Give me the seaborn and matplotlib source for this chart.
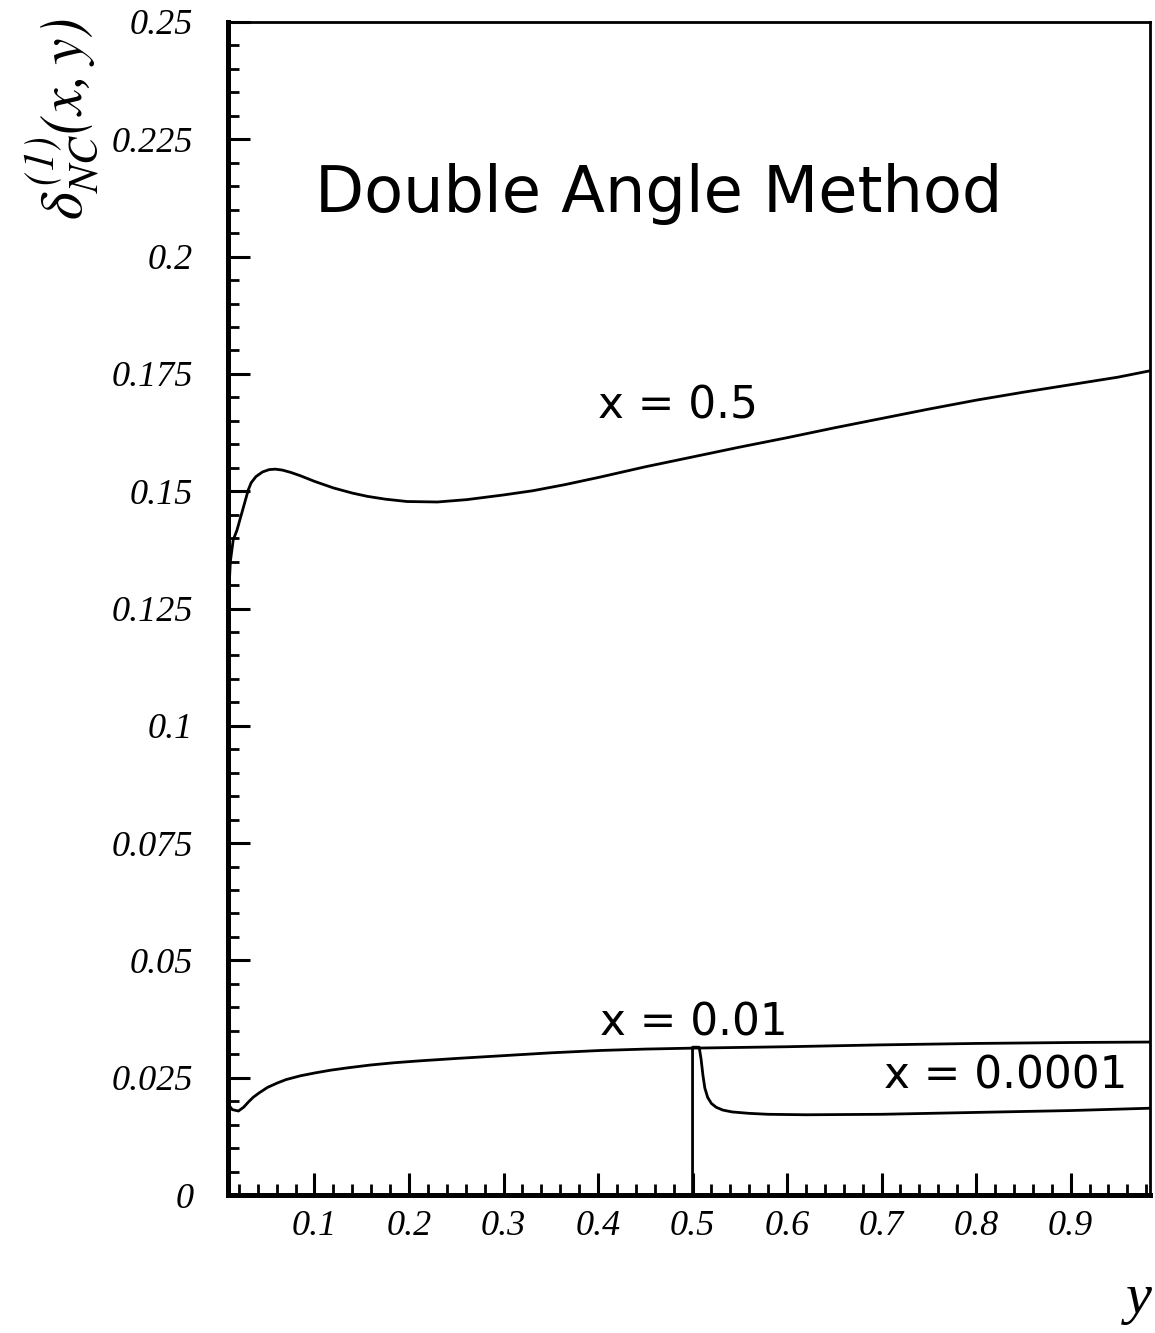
import numpy as np
import pandas as pd
import matplotlib
matplotlib.use("Agg")
import matplotlib.pyplot as plt
from matplotlib.ticker import MultipleLocator, FuncFormatter
import seaborn as sns

# ---- data ----
y_x05 = [0.0093, 0.011, 0.014, 0.018, 0.024, 0.030, 0.033, 0.038, 0.045, 0.052, 0.0586, 0.066,
         0.075, 0.085, 0.1, 0.12, 0.14, 0.156, 0.175, 0.198, 0.23, 0.261, 0.3, 0.331, 0.365,
         0.402, 0.45, 0.5, 0.55, 0.6, 0.65, 0.7, 0.75, 0.8, 0.85, 0.9, 0.95, 0.985]
d_x05 = [0.128, 0.135, 0.1396, 0.1417, 0.146, 0.1503, 0.1518, 0.1531, 0.1541, 0.1546, 0.1547, 0.1545,
         0.1540, 0.1533, 0.1521, 0.1507, 0.1496, 0.1489, 0.1483, 0.1478, 0.1477, 0.1482, 0.1492, 0.1501, 0.1514,
         0.1530, 0.1552, 0.1573, 0.1594, 0.1614, 0.1635, 0.1655, 0.1675, 0.1694, 0.1711, 0.1727, 0.1743, 0.1757]

y_x001 = [0.0098, 0.0100, 0.013, 0.0195, 0.025, 0.03, 0.035, 0.041, 0.05, 0.061, 0.07, 0.085,
          0.1, 0.117, 0.135, 0.159, 0.185, 0.212, 0.25, 0.3, 0.35, 0.402, 0.45, 0.5,
          0.6, 0.7, 0.8, 0.9, 0.985]
d_x001 = [0.0, 0.0190, 0.0182, 0.0179, 0.0187, 0.0198, 0.0208, 0.0217, 0.0229, 0.0239, 0.0246, 0.0254,
          0.0260, 0.0266, 0.0271, 0.0277, 0.0282, 0.0286, 0.0291, 0.0297, 0.0303, 0.0308, 0.0311, 0.0313,
          0.0316, 0.0320, 0.0323, 0.0325, 0.0326]

y_x00001 = [0.5, 0.5, 0.507, 0.509, 0.511, 0.513, 0.516, 0.52, 0.525, 0.532, 0.542, 0.56, 0.58,
            0.62, 0.7, 0.8, 0.9, 0.985]
d_x00001 = [0.0, 0.0315, 0.0315, 0.029, 0.0255, 0.0228, 0.0208, 0.0195, 0.0187, 0.0181, 0.0177, 0.0174, 0.0172,
            0.0171, 0.0172, 0.0176, 0.0180, 0.0185]

curve_labels = ["x = 0.5", "x = 0.01", "x = 0.0001"]
title_text = "Double Angle Method"
ytick_values = [0, 0.025, 0.05, 0.075, 0.1, 0.125, 0.15, 0.175, 0.2, 0.225, 0.25]
xtick_values = [0.1, 0.2, 0.3, 0.4, 0.5, 0.6, 0.7, 0.8, 0.9]

sns.set_theme(style="white")
plt.rcParams["font.family"] = ["Liberation Serif", "DejaVu Serif"]
plt.rcParams["font.style"] = "italic"
plt.rcParams["mathtext.fontset"] = "stix"
plt.rcParams["text.color"] = "black"
plt.rcParams["axes.labelcolor"] = "black"
plt.rcParams["xtick.color"] = "black"
plt.rcParams["ytick.color"] = "black"

fig = plt.figure(figsize=(11.55, 13.33), dpi=100)
ax = fig.add_axes([228 / 1155, 1 - 1195 / 1333, (1150 - 228) / 1155, (1195 - 22) / 1333])

for ys, ds in [(y_x05, d_x05), (y_x001, d_x001), (y_x00001, d_x00001)]:
    df = pd.DataFrame({"y": ys, "delta": ds})
    sns.lineplot(data=df, x="y", y="delta", sort=False, estimator=None,
                 color="black", linewidth=2.0, ax=ax)

ax.set_xlim(0.0085, 0.984)
ax.set_ylim(0, 0.25)

ax.set_xticks(xtick_values)
ax.set_yticks(ytick_values)
ax.xaxis.set_minor_locator(MultipleLocator(0.02))
ax.yaxis.set_minor_locator(MultipleLocator(0.005))
ax.xaxis.set_major_formatter(FuncFormatter(lambda v, p: f"{v:g}"))
ax.yaxis.set_major_formatter(FuncFormatter(lambda v, p: f"{v:g}"))

ax.tick_params(axis="both", which="both", direction="in", color="black", labelcolor="black",
               top=False, right=False, left=True, bottom=True)
ax.tick_params(axis="both", which="major", length=16, width=2.2, labelsize=26)
ax.tick_params(axis="both", which="minor", length=8, width=2.0)
ax.tick_params(axis="y", which="major", pad=25)
ax.tick_params(axis="x", which="major", pad=11)

for side in ["left", "bottom"]:
    ax.spines[side].set_linewidth(3.6)
for side in ["top", "right"]:
    ax.spines[side].set_linewidth(2.0)
for s in ax.spines.values():
    s.set_color("black")
    s.set_visible(True)

ax.set_xlabel("y", fontsize=42, loc="right", color="black")
ax.xaxis.set_label_coords((1152 - 228) / 922, (1195 - 1313) / 1173)
ax.xaxis.label.set_verticalalignment("baseline")

ax.set_ylabel(r"$\delta^{\mathit{(1)}}_{NC}(x,y)$", fontsize=43, loc="top", color="black")
ax.yaxis.set_label_coords((102 - 228) / 922, 1.003)

sans = dict(family="DejaVu Sans", style="normal", color="black")
ax.text(0.101, 0.2095, title_text, fontsize=46, ha="left", va="baseline", **sans)
ax.text(0.3997, 0.1656, curve_labels[0], fontsize=31.5, ha="left", va="baseline", **sans)
ax.text(0.4017, 0.0341, curve_labels[1], fontsize=31.5, ha="left", va="baseline", **sans)
ax.text(0.7028, 0.0228, curve_labels[2], fontsize=31.5, ha="left", va="baseline", **sans)

fig.savefig("out.png", dpi=100, facecolor="white")
